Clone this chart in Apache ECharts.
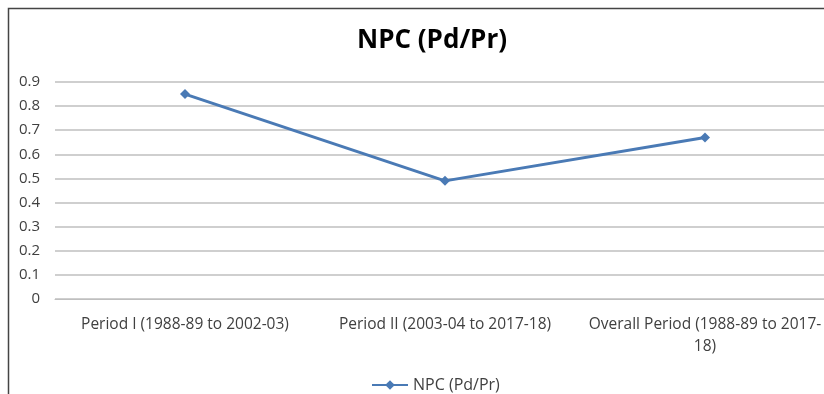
<!DOCTYPE html>
<html><head><meta charset="utf-8">
<script src="https://cdn.jsdelivr.net/npm/echarts@6/dist/echarts.min.js"></script>
<style>html,body{margin:0;padding:0;background:#fff;width:824px;height:394px;overflow:hidden}#c{width:850px;height:394px}</style>
</head><body><div id="c"></div>
<script>
const titleText = 'NPC (Pd/Pr)';
const seriesName = 'NPC (Pd/Pr)';
const categories = ['Period I (1988-89 to 2002-03)', 'Period II (2003-04 to 2017-18)', 'Overall Period (1988-89 to 2017-\n18)'];
const values = [0.85, 0.49, 0.67];
const yTicks = [0, 0.1, 0.2, 0.3, 0.4, 0.5, 0.6, 0.7, 0.8, 0.9];

const chart = echarts.init(document.getElementById('c'), null, {renderer: 'canvas'});
const font = '"Open Sans", sans-serif';
chart.setOption({
  animation: false,
  textStyle: {fontFamily: font},
  title: {text: titleText, left: 352, top: 23,
    textStyle: {fontFamily: font, fontSize: 26, fontWeight: 'bold', color: '#000'}},
  graphic: [{type: 'polyline', shape: {points: [[8.5, 400], [8.5, 8.5], [850, 8.5]]},
    style: {stroke: '#444', lineWidth: 1.5, fill: null}, silent: true}],
  legend: {top: 372, left: 366, itemWidth: 36, itemHeight: 12, itemGap: 4,
    textStyle: {fontFamily: font, fontSize: 16, color: '#404040'},
    data: [seriesName]},
  grid: {left: 55, top: 82, width: 780, height: 217, containLabel: false},
  xAxis: {type: 'category', data: categories, boundaryGap: true,
    axisLine: {show: true, lineStyle: {color: '#bfbfbf'}}, axisTick: {show: false},
    axisLabel: {fontFamily: font, fontSize: 15.5, color: '#404040', margin: 15, lineHeight: 22, interval: 0}},
  yAxis: {type: 'value', min: 0, max: 0.9, interval: 0.1,
    axisLine: {show: false}, axisTick: {show: false},
    axisLabel: {fontFamily: font, fontSize: 15, color: '#404040', margin: 15,
      formatter: v => { const t = yTicks.find(x => Math.abs(x - v) < 1e-9); return t === 0 ? '0' : String(t); }},
    splitLine: {lineStyle: {color: '#bfbfbf', width: 1.5}}},
  series: [{name: seriesName, type: 'line', data: values, symbol: 'diamond', symbolSize: 10,
    lineStyle: {color: '#4a7ab5', width: 3}, itemStyle: {color: '#4a7ab5'}}]
});
</script></body></html>
